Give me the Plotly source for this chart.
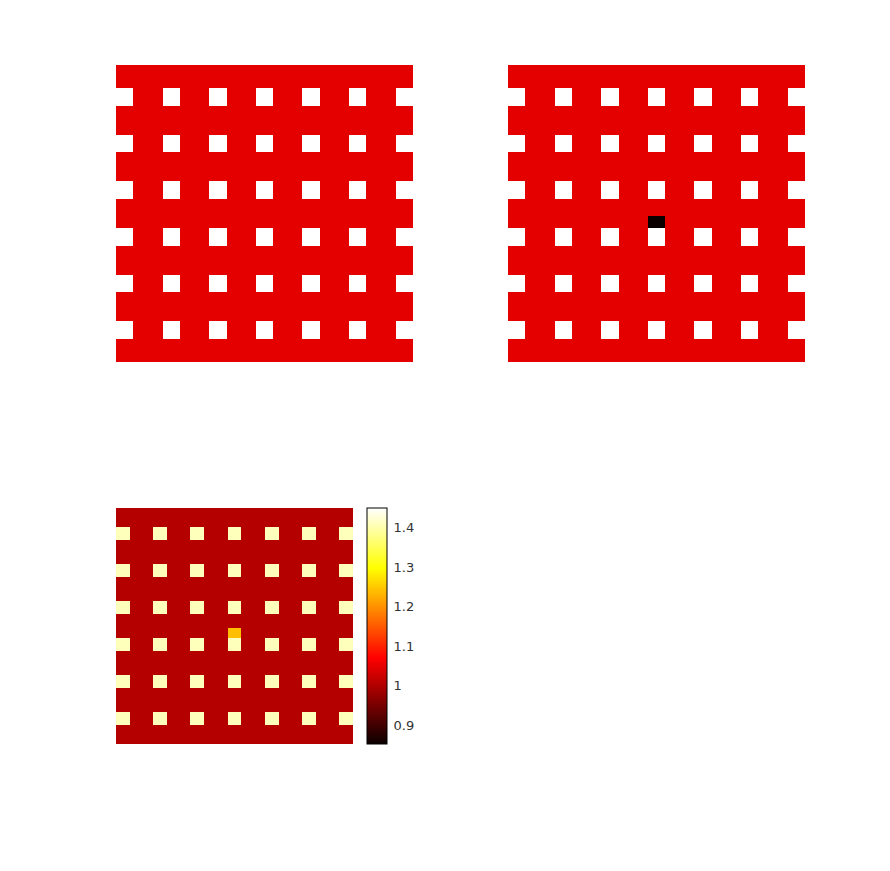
import numpy as np
import plotly.graph_objects as go

# ---- data ----
GRID_N = 51                                  # cells per side
HOLE_ROWS = [4, 12, 20, 28, 36, 44]          # first row of each hole (top -> bottom)
HOLE_COLS = [0, 8, 16, 24, 32, 40, 48]       # first column of each hole
HOLE_SIZE = 3
DEFECT_ROWS = [26, 27]
DEFECT_COLS = [24, 25, 26]

# top panels (own scale): background, hole, defect
TOP_BACKGROUND = 0.98
TOP_HOLE = 3.0
TOP_DEFECT = 0.0
TOP_RANGE = [0.0, 3.0]

# bottom panel (ratio): background, hole, defect
BOT_BACKGROUND = 1.005
BOT_HOLE = 1.41
BOT_DEFECT = 1.24
BOT_RANGE = [0.853, 1.45]
CBAR_TICKS = [0.9, 1.0, 1.1, 1.2, 1.3, 1.4]
CBAR_LABELS = ["0.9", "1", "1.1", "1.2", "1.3", "1.4"]


def build(background, hole, defect=None):
    z = np.full((GRID_N, GRID_N), background, dtype=float)
    for r in HOLE_ROWS:
        for c in HOLE_COLS:
            z[r:r + HOLE_SIZE, c:c + HOLE_SIZE] = hole
    if defect is not None:
        for r in DEFECT_ROWS:
            for c in DEFECT_COLS:
                z[r, c] = defect
    return z


z_tl = build(TOP_BACKGROUND, TOP_HOLE)
z_tr = build(TOP_BACKGROUND, TOP_HOLE, TOP_DEFECT)
z_bl = build(BOT_BACKGROUND, BOT_HOLE, BOT_DEFECT)

# matplotlib-like "hot"
HOT = [
    [0.0, "rgb(11,0,0)"],
    [0.365, "rgb(255,0,0)"],
    [0.746, "rgb(255,255,0)"],
    [1.0, "rgb(255,255,255)"],
]

W, H = 890, 871


def xd(a, b):
    return [a / W, b / W]


def yd(top, bottom):
    return [1 - bottom / H, 1 - top / H]


fig = go.Figure()

fig.add_trace(go.Heatmap(z=z_tl, xaxis="x", yaxis="y", coloraxis="coloraxis2"))
fig.add_trace(go.Heatmap(z=z_tr, xaxis="x2", yaxis="y2", coloraxis="coloraxis2"))
fig.add_trace(go.Heatmap(z=z_bl, xaxis="x3", yaxis="y3", coloraxis="coloraxis"))

ax_common = dict(visible=False, showgrid=False, zeroline=False)
xr = [-0.5, GRID_N - 0.5]
yr = [GRID_N - 0.5, -0.5]

fig.update_layout(
    width=W, height=H,
    margin=dict(l=0, r=0, t=0, b=0),
    paper_bgcolor="white", plot_bgcolor="white",
    font=dict(family="DejaVu Sans", color="rgb(51,51,51)"),
    xaxis=dict(domain=xd(116, 413), range=xr, anchor="y", **ax_common),
    yaxis=dict(domain=yd(65, 362), range=yr, anchor="x", **ax_common),
    xaxis2=dict(domain=xd(508, 805), range=xr, anchor="y2", **ax_common),
    yaxis2=dict(domain=yd(65, 362), range=yr, anchor="x2", **ax_common),
    xaxis3=dict(domain=xd(116, 353), range=xr, anchor="y3", **ax_common),
    yaxis3=dict(domain=yd(508, 744), range=yr, anchor="x3", **ax_common),
    coloraxis2=dict(colorscale=HOT, cmin=TOP_RANGE[0], cmax=TOP_RANGE[1], showscale=False),
    coloraxis=dict(
        colorscale=HOT, cmin=BOT_RANGE[0], cmax=BOT_RANGE[1], showscale=True,
        colorbar=dict(
            x=367 / W, xanchor="left", xpad=0,
            y=1 - 626 / H, yanchor="middle", ypad=0,
            len=236, lenmode="pixels",
            thickness=20, thicknessmode="pixels",
            outlinewidth=1, outlinecolor="black",
            tickvals=CBAR_TICKS, ticktext=CBAR_LABELS,
            ticks="outside", ticklen=4, tickcolor="rgba(0,0,0,0)", tickwidth=1,
            tickfont=dict(family="DejaVu Sans", size=13, color="rgb(51,51,51)"),
        ),
    ),
)

fig.write_html("out.html")
